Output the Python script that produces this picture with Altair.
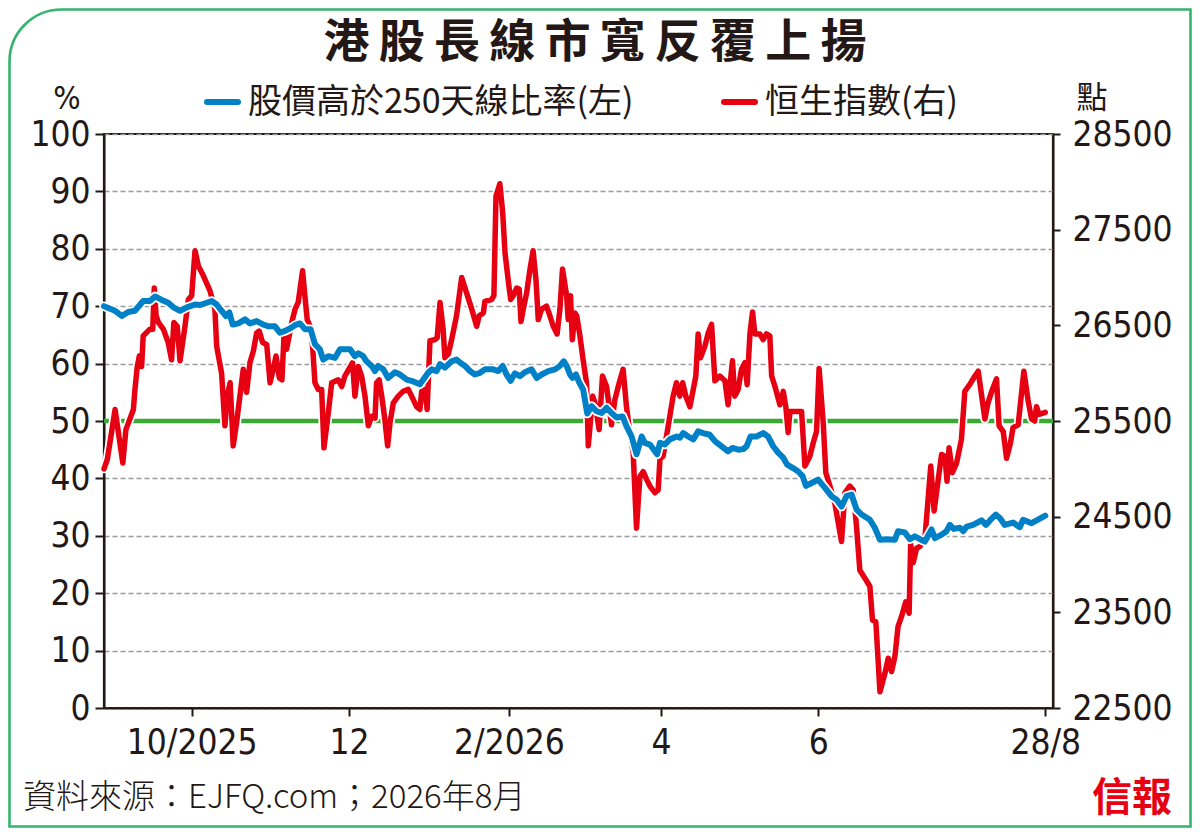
import altair as alt
import pandas as pd

# ---------------- data ----------------
# day offsets from 2025-08-28 and Hang Seng Index level (right axis)
red_days = [
    0.0, 1.3, 4.3, 7.3, 8.5, 11.4, 12.0, 12.9, 13.7, 14.6,
    15.2, 17.8, 18.9, 19.5, 20.2, 21.1, 23.0, 24.9, 26.2, 27.1,
    28.4, 29.5, 31.4, 32.7, 34.0, 35.3, 36.6, 38.5, 41.1, 43.0,
    43.7, 45.6, 46.9, 47.8, 48.9, 50.1, 51.4, 52.7, 54.0, 55.3,
    56.6, 57.9, 59.2, 60.2, 61.5, 63.1, 64.4, 65.6, 66.7, 68.0,
    69.0, 69.8, 70.8, 72.8, 74.1, 75.3, 77.0, 77.9, 78.8, 79.9,
    80.9, 81.8, 83.1, 84.4, 85.3, 87.0, 88.3, 90.8, 92.2, 93.4,
    96.4, 97.3, 98.6, 99.9, 101.2, 102.5, 103.8, 105.1, 105.7, 106.7,
    107.7, 108.9, 110.0, 110.9, 112.2, 114.1, 116.0, 118.0, 119.3, 121.2,
    122.5, 123.2, 124.5, 125.3, 126.4, 128.3, 129.2, 130.3, 131.5, 132.2,
    133.5, 134.8, 136.7, 138.7, 140.6, 142.6, 144.5, 145.5, 147.1, 147.7,
    150.3, 151.2, 152.0, 153.5, 154.6, 155.5, 156.7, 157.7, 158.7, 160.0,
    161.0, 161.7, 162.6, 163.9, 165.2, 166.4, 167.5, 168.4, 169.7, 171.6,
    172.9, 174.2, 175.7, 176.8, 177.8, 179.4, 180.0, 180.9, 181.6, 182.6,
    183.3, 184.5, 185.8, 187.1, 187.8, 189.5, 190.4, 192.0, 193.3, 194.9,
    196.8, 198.1, 199.4, 201.3, 202.6, 203.9, 205.2, 206.5, 207.8, 209.1,
    210.4, 211.7, 213.6, 214.9, 215.6, 216.8, 218.8, 220.7, 222.0, 223.3,
    224.4, 225.6, 227.2, 228.5, 229.5, 230.4, 231.3, 233.0, 234.3, 235.6,
    236.9, 238.8, 240.8, 242.0, 243.7, 244.6, 245.9, 247.2, 248.5, 249.4,
    250.5, 251.5, 252.4, 254.3, 255.6, 256.9, 258.2, 258.9, 260.2, 262.1,
    263.4, 264.4, 265.3, 266.0, 270.5, 271.8, 273.7, 275.0, 276.3, 277.3,
    278.9, 279.9, 281.5, 283.4, 286.0, 287.3, 289.2, 290.5, 291.8, 293.1,
    295.0, 297.0, 298.0, 299.3, 300.9, 302.8, 304.1, 305.4, 306.7, 307.9,
    309.3, 310.9, 312.2, 312.8, 313.8, 315.1, 316.4, 318.3, 320.6, 321.9,
    323.5, 324.8, 326.1, 326.9, 327.7, 329.0, 330.6, 332.5, 333.8, 335.7,
    337.7, 339.0, 339.9, 341.6, 342.8, 344.5, 346.1, 347.1, 348.7, 350.0,
    351.5, 352.5, 354.5, 356.7, 358.3, 359.7, 360.9, 361.6, 362.6, 365.0,
]
red_hsi = [
    25000, 25100, 25620, 25060, 25410, 25620, 25830, 26070, 26180, 26070,
    26390, 26460, 26460, 26890, 26600, 26530, 26460, 26320, 26140, 26530,
    26490, 26130, 26490, 26770, 26810, 27280, 27120, 27020, 26860, 26670,
    26280, 26000, 25450, 25760, 25900, 25240, 25480, 25760, 26040, 25800,
    26110, 26230, 26420, 26440, 26320, 26300, 25900, 26040, 26180, 25950,
    25930, 26390, 26250, 26530, 26670, 26740, 27070, 26810, 26560, 26490,
    26280, 25900, 25830, 25830, 25220, 25590, 25900, 25930, 25860, 25970,
    26110, 25760, 26070, 25970, 25760, 25450, 25550, 25530, 25900, 25930,
    25760, 25520, 25240, 25480, 25690, 25760, 25810, 25830, 25760, 25650,
    25620, 25810, 25830, 25620, 26340, 26350, 26370, 26740, 26460, 26160,
    26200, 26350, 26600, 27000, 26840, 26670, 26490, 26600, 26630, 26750,
    26770, 26810, 27850, 27980, 27680, 27260, 26980, 26770, 26810, 26890,
    26880, 26540, 26670, 26840, 27090, 27280, 26980, 26560, 26670, 26700,
    26600, 26490, 26410, 26670, 27090, 26810, 26560, 26810, 26350, 26630,
    26600, 26400, 26140, 25900, 25240, 25760, 25690, 25410, 25970, 25860,
    25460, 25720, 25860, 26040, 25650, 25380, 25170, 24380, 24920, 24970,
    24890, 24820, 24750, 24780, 25110, 25130, 25450, 25760, 25900, 25760,
    25900, 25760, 25650, 25830, 25970, 26410, 26160, 26280, 26420, 26510,
    25920, 25970, 25920, 25670, 26130, 25760, 25830, 26040, 26110, 25880,
    26420, 26640, 26410, 26410, 26350, 26410, 26390, 25970, 25860, 25670,
    25810, 25650, 25380, 25600, 25600, 25030, 25130, 25270, 25390, 26050,
    25480, 24960, 24820, 24640, 24240, 24750, 24820, 24780, 24400, 23940,
    23860, 23770, 23420, 23400, 22670, 22860, 23020, 22880, 23040, 23350,
    23460, 23610, 23490, 24210, 24020, 24170, 24190, 24260, 25030, 24560,
    24890, 25150, 25130, 24870, 25220, 24960, 25060, 25310, 25810, 25880,
    25970, 26020, 25850, 25520, 25690, 25830, 25940, 25450, 25390, 25110,
    25270, 25430, 25460, 26020, 25720, 25520, 25500, 25650, 25570, 25590,
]

# day offsets from 2025-08-28 and % of stocks above 250-day MA (left axis)
blue_days = [
    0.0, 4.3, 6.9, 9.4, 12.0, 15.2, 17.8, 19.8, 22.4, 24.9,
    26.9, 29.5, 32.1, 35.3, 37.2, 39.8, 41.8, 43.7, 45.6, 47.3,
    48.6, 49.9, 52.1, 54.7, 56.6, 59.2, 61.8, 63.7, 66.3, 68.2,
    70.2, 72.1, 74.1, 76.0, 77.9, 80.1, 81.8, 83.7, 85.0, 87.0,
    89.6, 91.5, 95.4, 97.3, 98.6, 100.5, 101.8, 103.8, 105.1, 106.3,
    108.3, 110.2, 112.8, 114.8, 117.4, 119.9, 122.5, 125.7, 127.1, 129.0,
    130.3, 132.2, 134.8, 136.7, 138.0, 140.0, 141.9, 143.8, 145.8, 147.7,
    150.9, 152.9, 154.6, 156.1, 157.7, 159.3, 161.3, 163.2, 165.8, 167.8,
    169.7, 172.3, 174.9, 176.8, 178.3, 179.4, 180.7, 181.7, 183.0, 184.3,
    185.8, 187.4, 189.1, 191.0, 193.0, 194.9, 196.8, 198.8, 201.1, 202.6,
    204.6, 206.5, 208.5, 209.7, 211.7, 213.2, 214.5, 215.6, 217.5, 219.4,
    222.0, 223.3, 224.6, 226.5, 228.5, 230.4, 232.3, 234.9, 236.9, 239.5,
    242.0, 243.7, 245.9, 247.9, 249.2, 250.7, 253.0, 255.6, 257.5, 259.5,
    261.4, 263.4, 264.9, 267.2, 269.2, 270.9, 272.2, 274.4, 276.9, 279.5,
    282.1, 284.1, 286.0, 287.9, 289.9, 291.8, 293.8, 297.0, 298.9, 300.9,
    303.5, 306.7, 307.9, 310.5, 312.5, 314.4, 316.4, 318.3, 320.9, 322.2,
    324.8, 326.7, 328.0, 329.5, 331.9, 333.2, 334.5, 337.0, 340.3, 342.0,
    343.8, 345.8, 347.4, 349.3, 352.5, 355.1, 356.4, 359.7, 362.2, 365.0,
]
blue_pct = [
    70.0, 69.2, 68.3, 69.0, 69.2, 70.9, 70.9, 71.7, 71.1, 70.6,
    69.8, 69.2, 69.8, 70.3, 70.2, 70.6, 70.9, 70.3, 69.2, 68.3,
    68.9, 66.8, 67.0, 67.7, 67.0, 67.4, 66.8, 66.5, 66.5, 65.4,
    65.7, 66.1, 66.7, 67.0, 66.0, 66.0, 63.4, 62.5, 60.7, 61.3,
    61.0, 62.5, 62.5, 61.3, 61.8, 61.3, 60.4, 59.6, 58.7, 59.6,
    59.0, 57.5, 58.5, 58.1, 57.2, 56.9, 56.4, 58.4, 59.0, 58.7,
    59.9, 59.3, 60.4, 60.7, 60.2, 59.6, 58.7, 58.1, 58.4, 59.0,
    59.0, 58.7, 59.6, 58.1, 57.0, 58.3, 57.8, 58.5, 59.0, 57.5,
    58.1, 58.7, 59.0, 59.6, 60.4, 59.6, 58.1, 57.5, 58.1, 56.7,
    55.5, 51.3, 52.6, 51.7, 51.4, 52.3, 51.4, 50.6, 50.8, 49.1,
    47.3, 44.2, 47.3, 46.2, 45.9, 45.0, 44.2, 46.2, 45.9, 46.8,
    47.3, 47.1, 47.9, 47.3, 46.8, 48.2, 47.9, 47.6, 46.5, 45.6,
    44.7, 45.3, 45.0, 45.1, 45.6, 47.3, 47.3, 47.9, 47.3, 45.6,
    44.5, 43.6, 42.4, 41.8, 41.2, 40.4, 38.7, 39.2, 39.8, 38.4,
    36.9, 36.3, 35.1, 36.9, 37.2, 34.6, 33.7, 32.8, 31.4, 29.3,
    29.4, 29.3, 30.8, 30.6, 29.4, 29.9, 29.4, 29.0, 31.1, 29.6,
    30.2, 30.8, 31.9, 31.2, 31.4, 30.8, 31.6, 31.9, 32.7, 31.9,
    32.8, 33.7, 33.1, 31.9, 32.3, 31.5, 32.8, 32.2, 32.8, 33.5,
]
assert len(red_days) == len(red_hsi)
assert len(blue_days) == len(blue_pct)

threshold_pct = [50]
left_ticks = [0, 10, 20, 30, 40, 50, 60, 70, 80, 90, 100]
right_ticks = [22500, 23500, 24500, 25500, 26500, 27500, 28500]
x_tick_dates = ["2025-10-01", "2025-12-01", "2026-02-01", "2026-04-01", "2026-06-01", "2026-08-28"]
x_tick_labels = ["10/2025", "12", "2/2026", "4", "6", "28/8"]
x_domain = ["2025-08-28", "2026-08-31"]

title_text = "港股長線市寬反覆上揚"
legend_labels = ["股價高於250天線比率(左)", "恒生指數(右)"]
left_unit = "%"
right_unit = "點"
source_text = "資料來源：EJFQ.com；2026年8月"
brand_text = "信報"

# ---------------- styling ----------------
RED = "#E60012"
BLUE = "#0080C6"
GREEN = "#3AAA35"
FRAME = "#34B46E"
INK = "#231815"
CJK = "Noto Sans CJK TC"
NUM = "Liberation Sans Narrow, DejaVu Sans Condensed, Liberation Sans, sans-serif"
NUM_SIZE = 35

base_day = pd.Timestamp("2025-08-28")


def to_iso(days):
    return [(base_day + pd.Timedelta(days=d)).strftime("%Y-%m-%dT%H:%M:%S") for d in days]


def to_dt(s):
    t = pd.Timestamp(s)
    return alt.DateTime(year=t.year, month=t.month, date=t.day)


red_df = pd.DataFrame({"date": to_iso(red_days), "hsi": red_hsi})
blue_df = pd.DataFrame({"date": to_iso(blue_days), "pct": blue_pct})
thr_df = pd.DataFrame({"pct": threshold_pct})

label_expr = "".join(
    f"timeFormat(datum.value, '%Y-%m-%d') == '{d}' ? '{l}' : "
    for d, l in zip(x_tick_dates, x_tick_labels)
) + "''"

x_enc = alt.X(
    "date:T",
    scale=alt.Scale(domain=[to_dt(x_domain[0]), to_dt(x_domain[1])]),
    axis=alt.Axis(
        values=[to_dt(d) for d in x_tick_dates],
        labelExpr=label_expr,
        title=None,
        grid=False,
        tickSize=8,
        tickWidth=2,
        tickColor=INK,
        domainColor=INK,
        domainWidth=2,
        labelFont=NUM,
        labelFontSize=NUM_SIZE,
        labelColor=INK,
        labelPadding=9,
        labelFlush=False,
        labelOverlap=False,
    ),
)

left_axis = alt.Axis(
    orient="left",
    values=left_ticks,
    title=None,
    grid=True,
    gridColor="#9a9a9a",
    gridDash=[5, 3],
    gridWidth=1.3,
    tickSize=9,
    tickWidth=2,
    tickColor=INK,
    domainColor=INK,
    domainWidth=2,
    labelFont=NUM,
    labelFontSize=NUM_SIZE,
    labelColor=INK,
    labelPadding=5,
    labelFlush=False,
    labelOverlap=False,
)
right_axis = alt.Axis(
    orient="right",
    values=right_ticks,
    format="d",
    title=None,
    grid=False,
    tickSize=7,
    tickWidth=2,
    tickColor=INK,
    domainColor=INK,
    domainWidth=2,
    labelFont=NUM,
    labelFontSize=NUM_SIZE,
    labelColor=INK,
    labelPadding=12,
    labelFlush=False,
    labelOverlap=False,
)

pct_scale = alt.Scale(domain=[0, 100], nice=False, zero=False)
hsi_scale = alt.Scale(domain=[22500, 28500], nice=False, zero=False)

green = alt.Chart(thr_df).mark_rule(color=GREEN, strokeWidth=4.5).encode(
    y=alt.Y("pct:Q", scale=pct_scale, axis=left_axis)
)

red_y = alt.Y("hsi:Q", scale=hsi_scale, axis=right_axis)
red_casing = alt.Chart(red_df).mark_line(
    color="white", strokeWidth=9, strokeJoin="round", strokeCap="round"
).encode(x=x_enc, y=red_y)
red_line = alt.Chart(red_df).mark_line(
    color=RED, strokeWidth=5.5, strokeJoin="round", strokeCap="round"
).encode(x=x_enc, y=red_y)
red_layer = alt.layer(red_casing, red_line)

blue_y = alt.Y("pct:Q", scale=pct_scale, axis=None)
blue_casing = alt.Chart(blue_df).mark_line(
    color="white", strokeWidth=9.5, strokeJoin="round", strokeCap="round"
).encode(x=x_enc, y=blue_y)
blue_line = alt.Chart(blue_df).mark_line(
    color=BLUE, strokeWidth=6, strokeJoin="round", strokeCap="round"
).encode(x=x_enc, y=blue_y)
blue_layer = alt.layer(blue_casing, blue_line)

# ---------------- decorations (positions in px relative to plot origin) ----------------
def text_chart(txt, x, y, size, font=CJK, color=INK, align="center", weight="normal"):
    return alt.Chart(pd.DataFrame({"t": [txt]})).mark_text(
        font=font, fontSize=size, color=color, align=align, baseline="middle",
        fontWeight=weight,
    ).encode(text="t:N", x=alt.value(x), y=alt.value(y))


def swatch(color, x1, x2, y):
    return alt.Chart(pd.DataFrame({"c": [color]})).mark_rule(
        color=color, strokeWidth=6, strokeCap="round"
    ).encode(x=alt.value(x1), x2=alt.value(x2), y=alt.value(y))


frame = alt.Chart(pd.DataFrame({"f": [1]})).mark_rect(
    fill="transparent", stroke=FRAME, strokeWidth=2.6, cornerRadiusTopLeft=52
).encode(x=alt.value(-94.5), x2=alt.value(1086.5), y=alt.value(-124.5), y2=alt.value(692.5))

title = text_chart("\u2009".join(title_text), 491, -91, 46, weight="bold")
pct_unit = text_chart(left_unit, -37, -35, 32, font=NUM)
pt_unit = text_chart(right_unit, 988, -35, 31)
leg_b_sw = swatch(BLUE, 103, 134, -32)
leg_b_tx = text_chart(legend_labels[0], 144, -31, 34, align="left")
leg_r_sw = swatch(RED, 620, 651, -32)
leg_r_tx = text_chart(legend_labels[1], 661, -31, 34, align="left")
source = text_chart(source_text, -81, 664, 33, align="left", weight=300)
brand = text_chart(brand_text, 1028, 665, 40, color=RED, weight="bold")

chart = alt.layer(
    green, red_layer, blue_layer,
    frame, title, pct_unit, pt_unit, leg_b_sw, leg_b_tx, leg_r_sw, leg_r_tx, source, brand,
).resolve_scale(y="independent").properties(
    width=949,
    height=574,
    autosize=alt.AutoSizeParams(type="none"),
    padding={"left": 96, "top": 126, "right": 139, "bottom": 120},
    background="white",
).configure_view(stroke=INK, strokeWidth=2.2)

chart.save("out.html", embed_options={"renderer": "svg", "actions": False})
